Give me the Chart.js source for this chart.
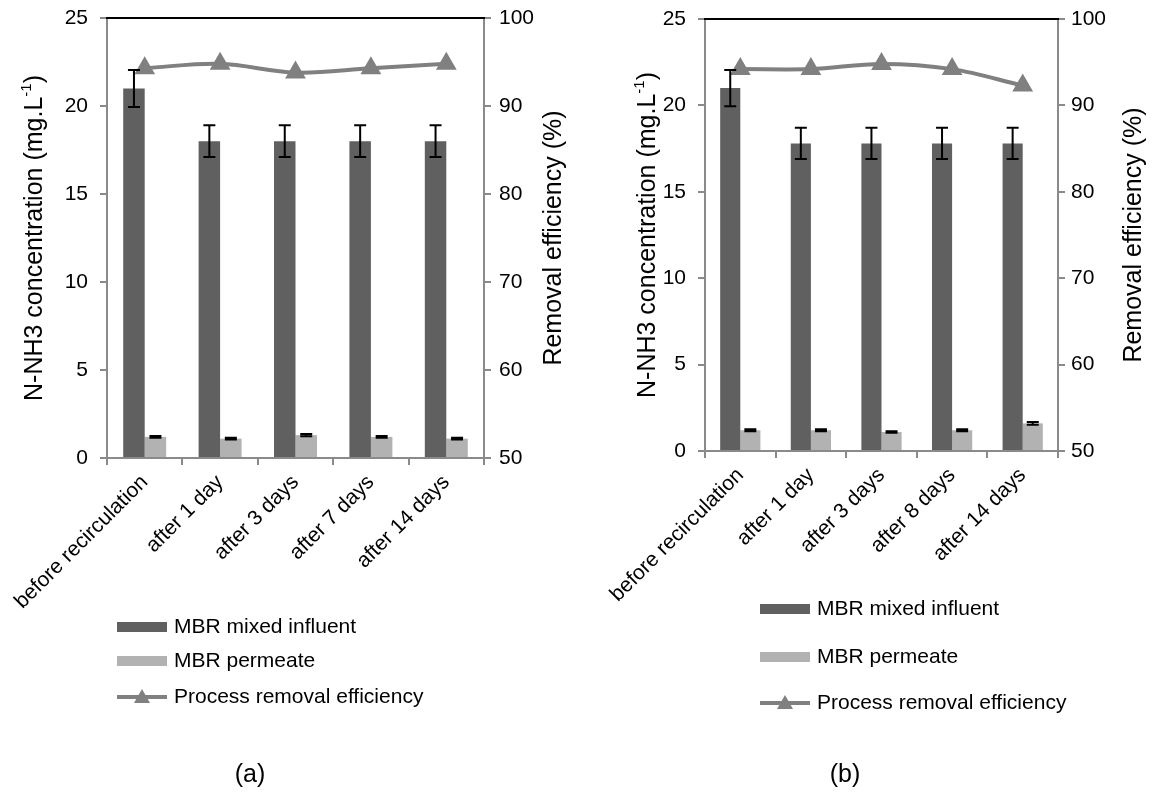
<!DOCTYPE html>
<html>
<head>
<meta charset="utf-8">
<script src="https://cdn.jsdelivr.net/npm/chart.js@4.4.1/dist/chart.umd.min.js"></script>
<style>
  body { margin: 0; background: #fff; }
  canvas { position: absolute; top: 0; }
  #chartA { left: 0; }
  #chartB { left: 578px; }
</style>
</head>
<body>
<canvas id="chartA" width="578" height="802"></canvas>
<canvas id="chartB" width="578" height="802"></canvas>
<script>
const labelsA = ["before recirculation", "after 1 day", "after 3 days", "after 7 days", "after 14 days"]
const labelsB = ["before recirculation", "after 1 day", "after 3 days", "after 8 days", "after 14 days"]

// N-NH3 in mg/L, error = std dev
const influentA = [21, 18, 18, 18, 18]
const influentErrA = [1.05, 0.9, 0.9, 0.9, 0.9]
const permeateA = [1.2, 1.1, 1.3, 1.2, 1.1]
const permeateErrA = [0.05, 0.05, 0.06, 0.05, 0.05]
const efficiencyA = [94.3, 94.8, 93.8, 94.3, 94.8]

const influentB = [21, 17.8, 17.8, 17.8, 17.8]
const influentErrB = [1.05, 0.9, 0.9, 0.9, 0.9]
const permeateB = [1.2, 1.2, 1.1, 1.2, 1.6]
const permeateErrB = [0.06, 0.06, 0.04, 0.06, 0.08]
const efficiencyB = [94.2, 94.2, 94.8, 94.2, 92.3]

const yLeftTicks = [0, 5, 10, 15, 20, 25]
const yRightTicks = [50, 60, 70, 80, 90, 100]

const FONT = "'Liberation Sans', Arial, sans-serif"
const DARK = "#606060"
const LIGHT = "#b2b2b2"
const LINE = "#808080"
const AXIS = "#8a8a8a"

Chart.defaults.font.family = FONT
Chart.defaults.color = "#000"

// error bars, top frame line, axis titles, legend and panel letter
const extras = {
  id: "extras",
  afterDatasetsDraw(chart) {
    const ctx = chart.ctx
    const y = chart.scales.y
    ctx.save()
    ctx.strokeStyle = "#000"
    ctx.lineWidth = 2
    chart.data.datasets.forEach((ds, i) => {
      if (!ds.errors) return
      const meta = chart.getDatasetMeta(i)
      meta.data.forEach((bar, j) => {
        const top = y.getPixelForValue(ds.data[j] + ds.errors[j])
        const bot = y.getPixelForValue(ds.data[j] - ds.errors[j])
        ctx.beginPath()
        ctx.moveTo(bar.x, top); ctx.lineTo(bar.x, bot)
        ctx.moveTo(bar.x - 6, top); ctx.lineTo(bar.x + 6, top)
        ctx.moveTo(bar.x - 6, bot); ctx.lineTo(bar.x + 6, bot)
        ctx.stroke()
      })
    })
    ctx.restore()
  },
  afterDraw(chart, args, opts) {
    const ctx = chart.ctx
    const area = chart.chartArea
    ctx.save()
    // black top border
    ctx.strokeStyle = "#000"
    ctx.lineWidth = 2
    ctx.beginPath()
    ctx.moveTo(area.left - 1, area.top)
    ctx.lineTo(area.right + 1, area.top)
    ctx.stroke()

    const midY = (area.top + area.bottom) / 2
    ctx.fillStyle = "#000"
    ctx.textBaseline = "middle"

    // left title with superscript
    ctx.save()
    ctx.translate(opts.leftTitleX, midY)
    ctx.rotate(-Math.PI / 2)
    const bigFont = "25px " + FONT
    const smallFont = "15px " + FONT
    const p1 = "N-NH3 concentration (mg.L"
    const p2 = "-1"
    const p3 = ")"
    ctx.font = bigFont
    const w1 = ctx.measureText(p1).width
    const w3 = ctx.measureText(p3).width
    ctx.font = smallFont
    const w2 = ctx.measureText(p2).width
    let x = -(w1 + w2 + w3) / 2
    ctx.textAlign = "left"
    ctx.font = bigFont
    ctx.fillText(p1, x, 0)
    x += w1
    ctx.font = smallFont
    ctx.fillText(p2, x, -8)
    x += w2
    ctx.font = bigFont
    ctx.fillText(p3, x, 0)
    ctx.restore()

    // right title
    ctx.save()
    ctx.translate(opts.rightTitleX, midY)
    ctx.rotate(-Math.PI / 2)
    ctx.font = bigFont
    ctx.textAlign = "center"
    ctx.fillText("Removal efficiency (%)", 0, 0)
    ctx.restore()

    // legend
    ctx.font = "21px " + FONT
    ctx.textAlign = "left"
    const ds = chart.data.datasets
    const lx = opts.legendX
    ds.forEach((d, i) => {
      const ly = opts.legendRows[i]
      if (d.type === "line") {
        ctx.strokeStyle = d.borderColor
        ctx.lineWidth = 4
        ctx.beginPath()
        ctx.moveTo(lx, ly); ctx.lineTo(lx + 50, ly)
        ctx.stroke()
        ctx.fillStyle = d.borderColor
        ctx.beginPath()
        ctx.moveTo(lx + 25, ly - 8)
        ctx.lineTo(lx + 33, ly + 6)
        ctx.lineTo(lx + 17, ly + 6)
        ctx.closePath()
        ctx.fill()
      } else {
        ctx.fillStyle = d.backgroundColor
        ctx.fillRect(lx, ly - 5, 50, 10)
      }
      ctx.fillStyle = "#000"
      ctx.fillText(d.label, lx + 57, ly)
    })

    // panel letter
    ctx.font = "25px " + FONT
    ctx.textAlign = "center"
    ctx.fillText(opts.letter, opts.letterX, 775)
    ctx.restore()
  }
}

function makeChart(id, labels, influent, influentErr, permeate, permeateErr, efficiency, box) {
  const c = document.getElementById(id).getContext("2d")
  return new Chart(c, {
    type: "bar",
    data: {
      labels: labels,
      datasets: [
        {
          label: "MBR mixed influent",
          data: influent,
          errors: influentErr,
          backgroundColor: DARK,
          yAxisID: "y",
          order: 1,
          categoryPercentage: 0.57,
          barPercentage: 1
        },
        {
          label: "MBR permeate",
          data: permeate,
          errors: permeateErr,
          backgroundColor: LIGHT,
          yAxisID: "y",
          order: 1,
          categoryPercentage: 0.57,
          barPercentage: 1
        },
        {
          type: "line",
          label: "Process removal efficiency",
          data: efficiency,
          borderColor: LINE,
          backgroundColor: LINE,
          borderWidth: 4,
          tension: 0.35,
          pointStyle: "triangle",
          pointRadius: 8,
          pointBackgroundColor: LINE,
          pointBorderColor: LINE,
          yAxisID: "y1",
          order: 0
        }
      ]
    },
    options: {
      responsive: false,
      animation: false,
      layout: { padding: { top: box.top, bottom: 0, left: 0, right: 0 } },
      plugins: {
        legend: { display: false },
        tooltip: { enabled: false },
        extras: box
      },
      scales: {
        x: {
          offset: true,
          grid: { offset: true, drawOnChartArea: false, drawTicks: true, tickLength: 7, color: AXIS, lineWidth: 2 },
          border: { color: AXIS, width: 2 },
          ticks: { minRotation: 45, maxRotation: 45, font: { size: 21 }, padding: 5, color: "#000" },
          afterFit(s) {
            s.height = 802 - box.bottom
            s.paddingLeft = 0
            s.paddingRight = 0
          }
        },
        y: {
          position: "left",
          min: 0,
          max: 25,
          afterBuildTicks(s) { s.ticks = yLeftTicks.map(v => ({ value: v })) },
          grid: { drawOnChartArea: false, tickLength: 7, color: AXIS, lineWidth: 2 },
          border: { color: AXIS, width: 2 },
          ticks: { font: { size: 21 }, padding: 12, color: "#000" },
          afterFit(s) {
            s.width = box.left
            s.paddingTop = 0
            s.paddingBottom = 0
          }
        },
        y1: {
          position: "right",
          min: 50,
          max: 100,
          afterBuildTicks(s) { s.ticks = yRightTicks.map(v => ({ value: v })) },
          grid: { drawOnChartArea: false, tickLength: 7, color: AXIS, lineWidth: 2 },
          border: { color: AXIS, width: 2 },
          ticks: { font: { size: 21 }, padding: box.rightPad, color: "#000" },
          afterFit(s) {
            s.width = 578 - box.right
            s.paddingTop = 0
            s.paddingBottom = 0
          }
        }
      }
    },
    plugins: [extras]
  })
}

makeChart("chartA", labelsA, influentA, influentErrA, permeateA, permeateErrA, efficiencyA, {
  left: 107, right: 484, top: 18, bottom: 458,
  leftTitleX: 35, rightTitleX: 554, rightPad: 8,
  legendX: 117, legendRows: [627, 661, 697],
  letter: "(a)", letterX: 250
})

makeChart("chartB", labelsB, influentB, influentErrB, permeateB, permeateErrB, efficiencyB, {
  left: 127, right: 480, top: 19, bottom: 451,
  leftTitleX: 70, rightTitleX: 556, rightPad: 6,
  legendX: 182, legendRows: [609, 657, 703],
  letter: "(b)", letterX: 267
})
</script>
</body>
</html>
